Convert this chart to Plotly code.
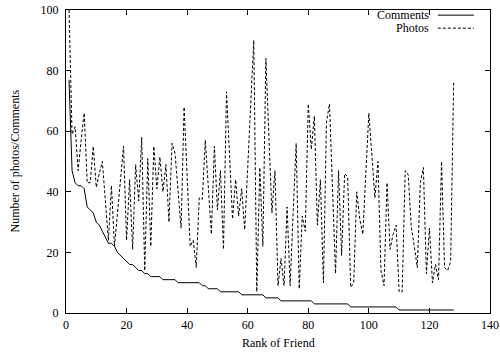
import plotly.graph_objects as go

rank = list(range(1, 129))

comments = [77, 47, 43, 42, 42, 41, 35, 34, 33, 30,
            29, 27, 25, 23, 23, 22, 20, 19, 18, 17,
            16, 16, 15, 14, 14, 13, 13, 12, 12, 12,
            12, 11, 11, 11, 11, 11, 10, 10, 10, 10,
            10, 10, 10, 10, 9, 9, 8, 8, 8, 8,
            7, 7, 7, 7, 7, 7, 7, 6, 6, 6,
            6, 6, 6, 6, 6, 5, 5, 5, 5, 5,
            4, 4, 4, 4, 4, 4, 4, 4, 4, 4,
            4, 3, 3, 3, 3, 3, 3, 3, 3, 3,
            3, 3, 3, 2, 2, 2, 2, 2, 2, 2,
            2, 2, 2, 2, 2, 2, 2, 2, 2, 1,
            1, 1, 1, 1, 1, 1, 1, 1, 1, 1,
            1, 1, 1, 1, 1, 1, 1, 1]

photos = [100, 59, 61.5, 47, 57, 66, 43, 43, 55, 41.5,
          46, 50, 37, 24, 42, 22, 33, 44, 55, 24,
          44, 21, 49, 37, 58, 14, 51, 22, 55, 41,
          51.5, 40, 49, 30, 56, 52.7, 40, 28, 68, 46,
          22, 24, 15, 38, 37.5, 57, 41, 26, 55, 34,
          47, 21, 73, 52, 31, 44, 32, 41, 27.5, 48,
          69, 90, 7, 48, 22, 84, 58, 33, 47, 9,
          18, 9, 35, 9, 33, 56, 8, 32, 27, 69,
          54, 65, 29, 44, 10, 63, 69, 41, 13, 47,
          19, 46, 45, 8.5, 10, 40, 31, 26, 46, 66,
          52, 38, 50, 14, 9, 43, 21, 26, 29, 7,
          7, 47, 45.6, 28.5, 22, 15, 43, 48, 13, 28,
          10, 16, 11, 50, 15, 14, 17, 76]

series_names = ["Comments", "Photos"]
x_ticks = [0, 20, 40, 60, 80, 100, 120, 140]
y_ticks = [0, 20, 40, 60, 80, 100]
x_title = "Rank of Friend"
y_title = "Number of photos/Comments"

FONT = "Liberation Serif"

fig = go.Figure()
fig.add_trace(go.Scatter(x=rank, y=comments, mode="lines", name=series_names[0],
                         line=dict(color="black", width=1)))
fig.add_trace(go.Scatter(x=rank, y=photos, mode="lines", name=series_names[1],
                         line=dict(color="black", width=1, dash="3px,2px")))

axis_common = dict(showline=True, linecolor="black", linewidth=1, mirror="allticks",
                   ticks="inside", ticklen=5, tickcolor="black", tickwidth=1,
                   showgrid=False, zeroline=False, automargin=False,
                   tickfont=dict(family=FONT, size=12, color="black"))

fig.update_xaxes(range=[0, 140], tickvals=x_ticks, ticklabelstandoff=1, **axis_common)
fig.update_yaxes(range=[0, 100], tickvals=y_ticks, ticklabelstandoff=4, **axis_common)

# axis titles
fig.add_annotation(x=0.5, y=-0.099, xref="paper", yref="paper", text=x_title,
                   showarrow=False, xanchor="center", yanchor="middle",
                   font=dict(family=FONT, size=12, color="black"))
fig.add_annotation(x=-0.1226, y=0.5, xref="paper", yref="paper", text=y_title,
                   showarrow=False, xanchor="center", yanchor="middle", textangle=-90,
                   font=dict(family=FONT, size=12, color="black"))

# gnuplot-style legend: text right-aligned, line sample to the right
legend_rows = [(0.983, "solid"), (0.94, "3px,2px")]
for (yy, dash), name in zip(legend_rows, series_names):
    fig.add_annotation(x=0.86, y=yy, xref="paper", yref="paper", text=name,
                       showarrow=False, xanchor="right", yanchor="middle",
                       font=dict(family=FONT, size=12, color="black"))
    fig.add_shape(type="line", xref="paper", yref="paper", x0=0.877, x1=0.962, y0=yy, y1=yy,
                  line=dict(color="black", width=1, dash=dash))

fig.update_layout(width=500, height=353, margin=dict(l=66, r=10, t=10, b=40),
                  paper_bgcolor="white", plot_bgcolor="white", showlegend=False,
                  font=dict(family=FONT, size=12, color="black"))

fig.write_html("out.html")
